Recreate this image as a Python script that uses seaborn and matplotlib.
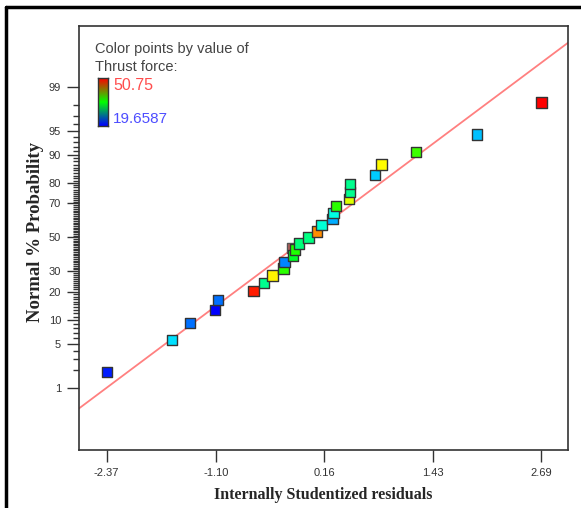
import numpy as np
import pandas as pd
import matplotlib
matplotlib.use("Agg")
import matplotlib.pyplot as plt
import seaborn as sns
from matplotlib.colors import LinearSegmentedColormap
from matplotlib.lines import Line2D
from statistics import NormalDist

# residuals sorted, with their normal % probability and thrust force value
residuals = [-2.37, -1.61, -1.40, -1.11, -1.07, -0.66, -0.54, -0.44, -0.31,
             -0.30, -0.20, -0.18, -0.13, -0.02, 0.08, 0.13, 0.26, 0.27,
             0.30, 0.45, 0.46, 0.46, 0.75, 0.83, 1.23, 1.94, 2.69]
probability = [1.85, 5.56, 9.26, 12.96, 16.67, 20.37, 24.07, 27.78, 31.48,
               35.19, 38.89, 42.59, 46.30, 50.00, 53.70, 57.41, 61.11, 64.81,
               68.52, 72.22, 75.93, 79.63, 83.33, 87.04, 90.74, 94.44, 98.15]
thrust = [20.6, 26.5, 23.1, 19.6587, 23.1, 49.8, 30.9, 43.3, 36.5,
          23.7, 34.0, 36.1, 31.5, 31.2, 46.4, 28.7, 24.9, 28.4,
          36.5, 42.0, 30.9, 30.9, 25.9, 43.0, 37.1, 25.6, 50.75]

# marker mostly hidden behind the green point near -0.2
hidden_residual = [-0.215]
hidden_probability = [43.2]

x_ticks = [-2.37, -1.10, 0.16, 1.43, 2.69]
y_ticks = [1, 5, 10, 20, 30, 50, 70, 80, 90, 95, 99]
y_minor = list(range(2, 99))
thrust_min, thrust_max = 19.6587, 50.75
fit_slope, fit_intercept = 0.994, 0.029

nd = NormalDist()


def probit(p):
    p = np.clip(np.asarray(p, dtype=float), 1e-6, 100 - 1e-6)
    return np.vectorize(lambda v: nd.inv_cdf(v / 100), otypes=[float])(p)


def inv_probit(z):
    z = np.asarray(z, dtype=float)
    return np.vectorize(lambda v: nd.cdf(v) * 100, otypes=[float])(z)


sns.set_style("ticks")
plt.rcParams["font.family"] = ["Liberation Sans", "DejaVu Sans"]

point_cmap = LinearSegmentedColormap.from_list(
    "points", ["#0000ff", "#00ffff", "#00ff00", "#ffff00", "#ff0000"])
bar_cmap = LinearSegmentedColormap.from_list(
    "bar", ["#0000ff", "#00ff00", "#ff0000"])

df = pd.DataFrame({"resid": residuals, "prob": probability, "thrust": thrust})

fig = plt.figure(figsize=(5.81, 5.08), dpi=100)
ax = fig.add_axes([79 / 581, 58 / 508, 489 / 581, 424 / 508])
ax.set_yscale("function", functions=(probit, inv_probit))

xlim = (-2.692, 3.0)
ax.set_xlim(*xlim)
ax.set_ylim(inv_probit(-3.29), inv_probit(3.27))

# fitted normal line
xs = np.array(xlim)
ax.plot(xs, inv_probit(fit_slope * xs + fit_intercept), color="#ff8080",
        lw=1.3, zorder=2)

ax.scatter(hidden_residual, hidden_probability, marker="s", s=55,
           color="#b8605c", edgecolor="#555555", linewidth=1, zorder=2.5)
sns.scatterplot(data=df, x="resid", y="prob", hue="thrust", palette=point_cmap,
                hue_norm=(thrust_min, thrust_max), marker="s", s=55,
                edgecolor="#333333", linewidth=1, legend=False, ax=ax,
                zorder=3)

ax.set_xticks(x_ticks)
ax.set_xticklabels([f"{t:.2f}" for t in x_ticks])
ax.set_yticks(y_ticks)
ax.set_yticklabels([str(t) for t in y_ticks])
ax.set_yticks(y_minor, minor=True)
ax.tick_params(axis="both", which="major", direction="out", length=8.6,
               width=1, color="#333333", labelsize=8, labelcolor="#333333",
               pad=4.3, bottom=True, left=True)
ax.tick_params(axis="y", which="minor", direction="out", length=4.3,
               width=1, color="#333333", left=True)
ax.tick_params(axis="x", which="minor", length=0)
for side in ["left", "right", "top", "bottom"]:
    ax.spines[side].set_visible(True)
    ax.spines[side].set_color("#333333")
    ax.spines[side].set_linewidth(1.2)

ax.set_xlabel("Internally Studentized residuals", fontsize=11.5,
              fontweight="bold", family="Liberation Serif")
ax.set_ylabel("Normal % Probability", fontsize=13.5, fontweight="bold",
              family="Liberation Serif")
ax.xaxis.set_label_coords(0.5, -0.087)
ax.yaxis.set_label_coords(-0.072, 0.514)

# color legend
fig.text(95 / 581, 1 - 49 / 508, "Color points by value of", fontsize=10.5,
         color="#444444", va="center", ha="left")
fig.text(95 / 581, 1 - 67 / 508, "Thrust force:", fontsize=10.5,
         color="#444444", va="center", ha="left")
cax = fig.add_axes([98 / 581, 1 - 126 / 508, 10 / 581, 48 / 508])
cax.imshow(np.linspace(1, 0, 100)[:, None], aspect="auto", cmap=bar_cmap)
cax.set_xticks([])
cax.set_yticks([])
for side in cax.spines.values():
    side.set_color("#333333")
    side.set_linewidth(1)
fig.text(113 / 581, 1 - 85 / 508, f"{thrust_max:g}", fontsize=11.5,
         color="#ff4d4d", va="center", ha="left")
fig.text(113 / 581, 1 - 119 / 508, f"{thrust_min:g}", fontsize=11,
         color="#4d4dff", va="center", ha="left")

# outer frame (left and top edges visible)
fig.add_artist(Line2D([6 / 581, 6 / 581], [0, 1 - 7 / 508],
                      transform=fig.transFigure, color="black", lw=2.5))
fig.add_artist(Line2D([6 / 581, 1], [1 - 7 / 508, 1 - 7 / 508],
                      transform=fig.transFigure, color="black", lw=2.5))

fig.savefig("out.png", dpi=100)
